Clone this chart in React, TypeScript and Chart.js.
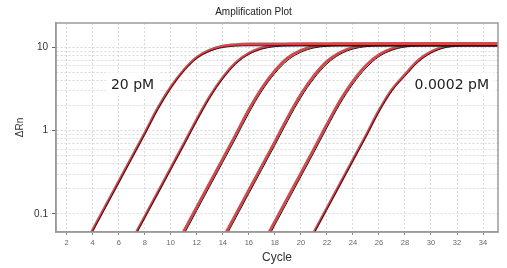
import { useEffect, useRef } from "react";
import { Chart, registerables } from "chart.js";

Chart.register(...registerables);

// ---------- data ----------
const cycles = [1, 2, 3, 4, 5, 6, 7, 8, 9, 10, 11, 12, 13, 14, 15, 16, 17, 18, 19, 20, 21, 22, 23, 24, 25, 26, 27, 28, 29, 30, 31, 32, 33, 34, 35, 36];

// red traces (ΔRn per cycle) for 20, 2, 0.2, 0.02, 0.002, 0.0002 pM
const red20pM = [null, 0.0169, 0.033, 0.0644, 0.126, 0.245, 0.478, 0.933, 1.85, 3.32, 5.32, 7.57, 9.23, 10.28, 10.74, 10.92, 10.95, 10.95, 10.95, 10.95, 10.95, 10.95, 10.95, 10.95, 10.95, 10.95, 10.95, 10.95, 10.95, 10.95, 10.95, 10.95, 10.95, 10.95, 10.95, 10.95];
const red2pM = [null, null, null, null, null, 0.0245, 0.0477, 0.093, 0.181, 0.354, 0.69, 1.36, 2.56, 4.33, 6.52, 8.48, 9.83, 10.54, 10.84, 10.95, 10.95, 10.95, 10.95, 10.95, 10.95, 10.95, 10.95, 10.95, 10.95, 10.95, 10.95, 10.95, 10.95, 10.95, 10.95, 10.95];
const red02pM = [null, null, null, null, null, null, null, null, 0.0164, 0.032, 0.0623, 0.1215, 0.237, 0.462, 0.902, 1.79, 3.24, 5.22, 7.49, 9.17, 10.26, 10.72, 10.92, 10.95, 10.95, 10.95, 10.95, 10.95, 10.95, 10.95, 10.95, 10.95, 10.95, 10.95, 10.95, 10.95];
const red002pM = [null, null, null, null, null, null, null, null, null, null, null, null, 0.0262, 0.051, 0.0994, 0.194, 0.378, 0.737, 1.46, 2.72, 4.55, 6.76, 8.66, 9.94, 10.59, 10.86, 10.95, 10.95, 10.95, 10.95, 10.95, 10.95, 10.95, 10.95, 10.95, 10.95];
const red0002pM = [null, null, null, null, null, null, null, null, null, null, null, null, null, null, null, 0.0214, 0.0417, 0.0814, 0.159, 0.309, 0.603, 1.19, 2.28, 3.93, 6.05, 8.14, 9.61, 10.45, 10.8, 10.95, 10.95, 10.95, 10.95, 10.95, 10.95, 10.95];
const red00002pM = [null, null, null, null, null, null, null, null, null, null, null, null, null, null, null, null, null, null, 0.0158, 0.0309, 0.0603, 0.1175, 0.229, 0.447, 0.871, 1.74, 3.1, 4.7, 6.9, 8.8, 10.1, 10.65, 10.88, 10.95, 10.95, 10.95];

// black traces (replicates)
const black20pM = [null, 0.0163, 0.0318, 0.062, 0.121, 0.236, 0.461, 0.9, 1.79, 3.22, 5.18, 7.35, 8.95, 9.92, 10.3, 10.4, 10.4, 10.4, 10.4, 10.4, 10.4, 10.4, 10.4, 10.4, 10.4, 10.4, 10.4, 10.4, 10.4, 10.4, 10.4, 10.4, 10.4, 10.4, 10.4, 10.4];
const black2pM = [null, null, null, null, null, 0.0236, 0.046, 0.0897, 0.175, 0.341, 0.666, 1.31, 2.48, 4.2, 6.33, 8.2, 9.5, 10.15, 10.35, 10.4, 10.4, 10.4, 10.4, 10.4, 10.4, 10.4, 10.4, 10.4, 10.4, 10.4, 10.4, 10.4, 10.4, 10.4, 10.4, 10.4];
const black02pM = [null, null, null, null, null, null, null, null, 0.0148, 0.029, 0.0564, 0.11, 0.215, 0.418, 0.815, 1.62, 2.98, 4.85, 7.0, 8.7, 9.8, 10.25, 10.4, 10.4, 10.4, 10.4, 10.4, 10.4, 10.4, 10.4, 10.4, 10.4, 10.4, 10.4, 10.4, 10.4];
const black002pM = [null, null, null, null, null, null, null, null, null, null, null, null, 0.0237, 0.0462, 0.09, 0.176, 0.342, 0.667, 1.32, 2.49, 4.2, 6.3, 8.2, 9.5, 10.15, 10.35, 10.4, 10.4, 10.4, 10.4, 10.4, 10.4, 10.4, 10.4, 10.4, 10.4];
const black0002pM = [null, null, null, null, null, null, null, null, null, null, null, null, null, null, null, 0.0194, 0.0377, 0.0737, 0.1436, 0.28, 0.546, 1.08, 2.08, 3.62, 5.62, 7.7, 9.2, 10.05, 10.35, 10.4, 10.4, 10.4, 10.4, 10.4, 10.4, 10.4];
const black00002pM = [null, null, null, null, null, null, null, null, null, null, null, null, null, null, null, null, null, null, 0.0153, 0.0299, 0.0583, 0.1136, 0.221, 0.432, 0.84, 1.68, 3.0, 4.5, 6.6, 8.5, 9.8, 10.25, 10.4, 10.4, 10.4, 10.4];

const redSeries = [red20pM, red2pM, red02pM, red002pM, red0002pM, red00002pM];
const blackSeries = [black20pM, black2pM, black02pM, black002pM, black0002pM, black00002pM];

const xTickValues = [2, 4, 6, 8, 10, 12, 14, 16, 18, 20, 22, 24, 26, 28, 30, 32, 34];
const yGridValues = [0.1, 0.2, 0.3, 0.4, 0.5, 0.6, 0.7, 0.8, 0.9, 1, 2, 3, 4, 5, 6, 7, 8, 9, 10];
const yLabelValues = [0.1, 1, 10];

const annotationTexts = ["20 pM", "0.0002 pM"];
const annotationCycles = [7.06, 31.6];
const annotationValues = [3.58, 3.58];

const chartTitle = "Amplification Plot";
const xTitle = "Cycle";
const yTitle = "ΔRn";

// ---------- chart ----------
const toPoints = (arr: (number | null)[]) =>
  cycles.map((c, i) => ({ x: c, y: arr[i] })).filter((p) => p.y !== null);

const decorPlugin = {
  id: "decor",
  afterDraw(chart: any) {
    const { ctx, chartArea } = chart;
    ctx.save();
    // frame
    ctx.strokeStyle = "#9a9a9a";
    ctx.lineWidth = 1.5;
    ctx.strokeRect(chartArea.left, chartArea.top, chartArea.right - chartArea.left, chartArea.bottom - chartArea.top);
    // annotations
    ctx.font = "14px 'DejaVu Sans', Verdana, sans-serif";
    ctx.textAlign = "center";
    ctx.textBaseline = "middle";
    annotationTexts.forEach((t, i) => {
      const x = chart.scales.x.getPixelForValue(annotationCycles[i]);
      const y = chart.scales.y.getPixelForValue(annotationValues[i]);
      const w = ctx.measureText(t).width;
      ctx.fillStyle = "#ffffff";
      ctx.fillRect(x - w / 2 - 5, y - 12, w + 10, 24);
      ctx.fillStyle = "#222222";
      ctx.fillText(t, x, y + 1);
    });
    // title
    ctx.font = "10px 'Liberation Sans', Arial, sans-serif";
    ctx.fillStyle = "#222222";
    ctx.fillText(chartTitle, 253.5, 12);
    ctx.restore();
  },
};

export default function App() {
  const ref = useRef<HTMLCanvasElement>(null);
  useEffect(() => {
    const datasets: any[] = [];
    redSeries.forEach((s, i) => {
      datasets.push({
        label: "red " + i,
        data: toPoints(s),
        borderColor: "#d8474b",
        borderWidth: 2.8,
        pointRadius: 0,
        cubicInterpolationMode: "monotone",
        clip: 0,
        order: 2,
      });
    });
    blackSeries.forEach((s, i) => {
      datasets.push({
        label: "black " + i,
        data: toPoints(s),
        borderColor: "#1c1c1c",
        borderWidth: 1,
        pointRadius: 0,
        cubicInterpolationMode: "monotone",
        clip: 0,
        order: 1,
      });
    });
    const chart = new Chart(ref.current!, {
      type: "line",
      data: { datasets },
      plugins: [decorPlugin],
      options: {
        animation: false,
        responsive: false,
        devicePixelRatio: 1,
        layout: { padding: { top: 23, right: 9, left: 0, bottom: 0 } },
        plugins: { legend: { display: false }, tooltip: { enabled: false }, title: { display: false } },
        scales: {
          x: {
            type: "linear",
            min: 1.18,
            max: 35.15,
            afterBuildTicks: (s: any) => {
              s.ticks = xTickValues.map((value) => ({ value }));
            },
            afterFit: (s: any) => {
              s.height = 36;
            },
            grid: { color: "#d9d9d9", lineWidth: 1, tickLength: 3, tickColor: "#888888" },
            border: { display: true, color: "#9a9a9a", width: 1.5, dash: [2, 2] },
            ticks: {
              autoSkip: false,
              maxRotation: 0,
              padding: 3,
              color: "#666666",
              font: { family: "'Liberation Sans', Arial, sans-serif", size: 7.5 },
              callback: (v: any) => String(v),
            },
            title: {
              display: true,
              text: xTitle,
              color: "#333333",
              font: { family: "'Liberation Sans', Arial, sans-serif", size: 12, lineHeight: 1 },
              padding: { top: 0, bottom: 4 },
            },
          },
          y: {
            type: "logarithmic",
            min: 0.0608,
            max: 19.5,
            afterBuildTicks: (s: any) => {
              s.ticks = yGridValues.map((value) => ({ value }));
            },
            afterFit: (s: any) => {
              s.width = 56;
            },
            grid: {
              color: "#d9d9d9",
              lineWidth: 1,
              tickLength: 4,
              tickColor: (c: any) => (c.tick && yLabelValues.includes(c.tick.value) ? "#666666" : "rgba(0,0,0,0)"),
            },
            border: { display: true, color: "#9a9a9a", width: 1.5, dash: [2, 2] },
            ticks: {
              autoSkip: false,
              padding: 4,
              color: "#333333",
              font: { family: "'Liberation Sans', Arial, sans-serif", size: 10 },
              callback: (v: any) => (yLabelValues.includes(Number(v)) ? String(v) : ""),
            },
            title: {
              display: true,
              text: yTitle,
              color: "#333333",
              font: { family: "'Liberation Sans', Arial, sans-serif", size: 10, lineHeight: 1 },
              padding: { top: 15, bottom: 0 },
            },
          },
        },
      } as any,
    });
    return () => chart.destroy();
  }, []);
  return (
    <div style={{ position: "absolute", left: 0, top: 0, width: 507, height: 268 }}>
      <canvas ref={ref} width={507} height={268} style={{ display: "block" }} />
    </div>
  );
}
